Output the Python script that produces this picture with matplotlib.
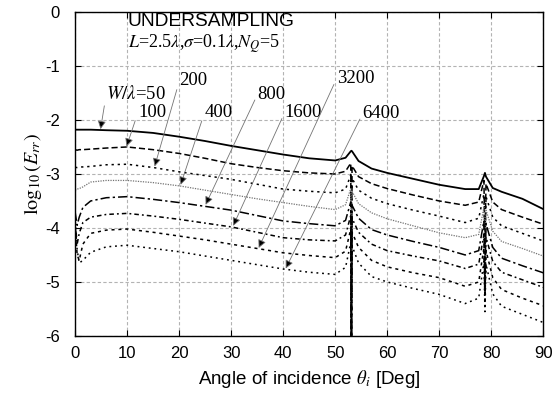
import matplotlib
matplotlib.use('Agg')
import matplotlib.pyplot as plt

plt.rcParams['font.family'] = ['Liberation Sans', 'DejaVu Sans']
plt.rcParams['mathtext.fontset'] = 'stix'
plt.rcParams['axes.unicode_minus'] = False

# angle of incidence (deg)
theta = [0, 0.4, 0.8, 1.5, 3, 6, 10, 15, 20, 25, 30, 35, 40, 45, 50, 52, 53.0, 53.13, 53.25, 54.5,
         57, 60, 65, 70, 75, 77.6, 78.6, 78.8, 79.0, 80.3, 82, 86, 90]

# log10(Err) for each W/lambda
err_50 = [-2.18, -2.18, -2.18, -2.18, -2.18, -2.19, -2.20, -2.24, -2.31, -2.39, -2.48, -2.56, -2.64, -2.71, -2.75,
          -2.70, -2.58, -2.57, -2.58, -2.76, -2.90, -2.98, -3.09, -3.20, -3.28, -3.28, -3.04, -2.98, -3.05, -3.26,
          -3.33, -3.46, -3.65]
err_100 = [-2.55, -2.56, -2.55, -2.55, -2.54, -2.52, -2.50, -2.55, -2.62, -2.71, -2.81, -2.88, -2.94, -2.98, -3.00,
           -2.95, -2.80, -6.3, -2.85, -3.05, -3.18, -3.27, -3.39, -3.50, -3.58, -3.52, -3.12, -4.3, -3.18, -3.52,
           -3.66, -3.80, -3.93]
err_200 = [-2.88, -2.88, -2.87, -2.87, -2.86, -2.83, -2.82, -2.88, -2.96, -3.03, -3.10, -3.19, -3.28, -3.32, -3.35,
           -3.28, -3.02, -6.3, -3.08, -3.30, -3.45, -3.55, -3.67, -3.78, -3.90, -3.82, -3.37, -4.6, -3.42, -3.80,
           -3.96, -4.10, -4.24]
err_400 = [-3.30, -3.28, -3.27, -3.24, -3.15, -3.12, -3.12, -3.16, -3.22, -3.30, -3.38, -3.46, -3.53, -3.60, -3.66,
           -3.57, -3.27, -6.3, -3.32, -3.55, -3.72, -3.83, -3.96, -4.09, -4.18, -4.12, -3.62, -4.8, -3.67, -4.06,
           -4.25, -4.38, -4.52]
err_800 = [-3.70, -3.95, -3.80, -3.62, -3.50, -3.44, -3.42, -3.47, -3.53, -3.60, -3.67, -3.77, -3.87, -3.92, -3.96,
           -3.86, -3.52, -6.3, -3.58, -3.82, -4.03, -4.13, -4.25, -4.36, -4.50, -4.42, -3.87, -5.0, -3.92, -4.36,
           -4.56, -4.70, -4.83]
err_1600 = [-3.85, -4.30, -4.10, -3.90, -3.80, -3.75, -3.73, -3.78, -3.84, -3.91, -3.98, -4.08, -4.18, -4.22, -4.24,
            -4.13, -3.77, -6.3, -3.82, -4.08, -4.30, -4.42, -4.52, -4.61, -4.75, -4.67, -4.12, -5.2, -4.17, -4.62,
            -4.82, -4.96, -5.10]
err_3200 = [-3.90, -4.50, -4.60, -4.30, -4.10, -4.04, -4.02, -4.08, -4.15, -4.22, -4.30, -4.38, -4.46, -4.51, -4.55,
            -4.43, -4.02, -6.3, -4.08, -4.36, -4.60, -4.72, -4.83, -4.92, -5.08, -5.00, -4.37, -5.4, -4.42, -4.92,
            -5.14, -5.30, -5.44]
err_6400 = [-3.95, -4.40, -4.65, -4.60, -4.45, -4.35, -4.32, -4.38, -4.44, -4.52, -4.60, -4.68, -4.76, -4.82, -4.86,
            -4.73, -4.27, -6.3, -4.33, -4.65, -4.90, -5.00, -5.12, -5.23, -5.40, -5.30, -4.62, -5.55, -4.67, -5.22,
            -5.45, -5.60, -5.75]

labels = [r'$W/\lambda$=50', '100', '200', '400', '800', '1600', '3200', '6400']
label_pos = [(6.0, -1.52), (12.1, -1.86), (20.1, -1.26), (24.9, -1.86),
             (35.1, -1.52), (40.3, -1.86), (50.3, -1.23), (55.3, -1.88)]
arrow_tip = [(4.9, -2.17), (9.9, -2.49), (15.3, -2.86), (20.3, -3.20),
             (25.1, -3.57), (30.4, -3.96), (35.3, -4.37), (40.5, -4.75)]

series = [err_50, err_100, err_200, err_400, err_800, err_1600, err_3200, err_6400]
styles = [
    dict(color='black', lw=1.3, ls='-'),
    dict(color='black', lw=1.1, ls=(0, (4, 2))),
    dict(color='black', lw=1.1, ls=(0, (1.5, 2.5))),
    dict(color='0.45', lw=0.9, ls=(0, (1, 1))),
    dict(color='black', lw=1.1, ls=(0, (6, 2, 1.5, 2))),
    dict(color='black', lw=1.1, ls=(0, (3, 2, 1.2, 2))),
    dict(color='black', lw=1.1, ls=(0, (2, 2.5))),
    dict(color='black', lw=1.1, ls=(0, (1.2, 2.5))),
]

fig = plt.figure(figsize=(5.56, 3.99), dpi=100)
ax = fig.add_axes([0.135, 0.158, 0.842, 0.812])

for y, st in zip(series, styles):
    ax.plot(theta, y, **st)

for lab, pos, tip in zip(labels, label_pos, arrow_tip):
    ax.annotate(lab, xy=tip, xytext=pos, ha='left', va='center', fontsize=13.5,
                family=['Liberation Serif', 'DejaVu Serif'],
                arrowprops=dict(arrowstyle='-|>', ec='0.45', fc='black', lw=0.6,
                                mutation_scale=12, shrinkA=0, shrinkB=0, relpos=(0, 0.5)))

ax.text(10.15, -0.18, 'UNDERSAMPLING', ha='left', va='center', fontsize=13.8)
ax.text(10.15, -0.59, r'$L$=2.5$\lambda$,$\sigma$=0.1$\lambda$,$N_Q$=5', ha='left', va='center',
        fontsize=13, family=['Liberation Serif', 'DejaVu Serif'])

ax.set_xlim(0, 90)
ax.set_ylim(-6, 0)
ax.set_xticks(range(0, 91, 10))
ax.set_yticks(range(-6, 1))
ax.grid(True, color='0.7', ls=(0, (3, 2)), lw=0.8)
ax.tick_params(direction='in', length=4, top=True, right=True, labelsize=12)
ax.tick_params(axis='x', pad=7)
ax.tick_params(axis='y', pad=11)
for s in ax.spines.values():
    s.set_linewidth(1.0)

ax.set_xlabel(r'Angle of incidence $\theta_i$ [Deg]', fontsize=13.5, labelpad=5)
ax.set_ylabel(r'$\log_{10}(E_{rr})$', fontsize=14.5, labelpad=1)

fig.savefig('out.png', dpi=100)
